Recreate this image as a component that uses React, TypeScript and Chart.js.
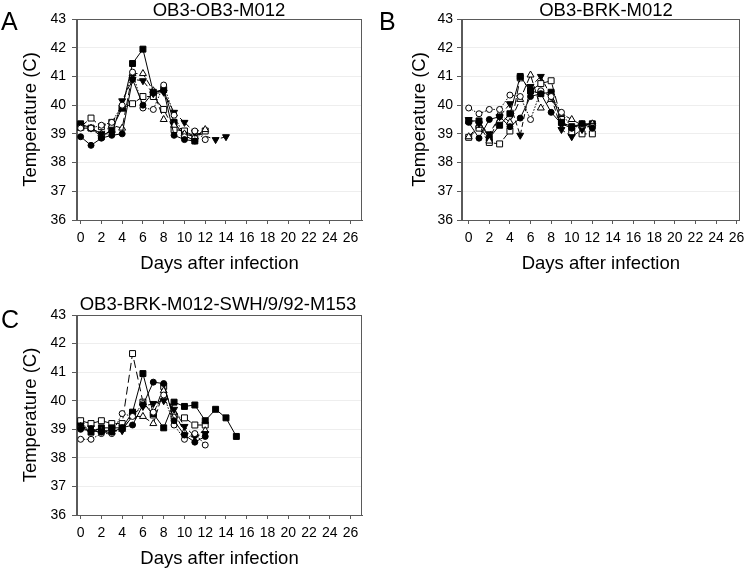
import React, { useEffect, useRef } from "react";
import { Chart, registerables } from "chart.js";

Chart.register(...registerables);

const FONT = '"Liberation Sans", Arial, Helvetica, sans-serif';

// ---------- shared axes ----------
const xTickValues = [0, 2, 4, 6, 8, 10, 12, 14, 16, 18, 20, 22, 24, 26];
const yTickValues = [36, 37, 38, 39, 40, 41, 42, 43];
const xAxisTitle = "Days after infection";
const yAxisTitle = "Temperature (C)";

// ---------- Panel A : OB3-OB3-M012 (values by day, starting day 0) ----------
const aFilledCircle = [38.9, 38.6, 38.85, 38.95, 39.0, 40.9, 40.0, 40.45, 40.5, 38.95, 38.8, 38.75];
const aOpenCircle = [39.2, 39.2, 39.3, 39.4, 40.0, 41.15, 39.9, 39.85, 40.7, 39.65, 38.9, 39.1, 38.8];
const aFilledTriDown = [39.3, 39.2, 39.0, 39.0, 40.15, 40.9, 40.85, 40.4, 40.45, 39.75, 39.4, 39.05, null, 38.8, 38.9];
const aOpenTriUp = [39.2, 39.2, 39.0, 39.3, 39.2, 41.1, 41.1, 40.5, 39.5, 39.3, 39.0, 38.9, 39.15];
const aFilledSquare = [39.35, 39.2, 38.9, 39.15, 39.9, 41.45, 41.95, 40.45, 40.55, 39.4, 38.95, 38.75];
const aOpenSquare = [39.25, 39.55, 39.25, 39.4, 39.9, 40.05, 40.3, 40.3, 39.85, 39.15, 39.1, 38.9, 39.1];

// ---------- Panel B : OB3-BRK-M012 ----------
const bFilledCircle = [39.4, 38.85, 39.5, 39.6, 39.25, 39.55, 40.3, 40.4, 39.75, 39.35, 39.2, 39.35, 39.2];
const bOpenCircle = [39.9, 39.7, 39.85, 39.85, 40.35, 40.3, 39.5, 40.5, 40.3, 39.75, 39.2, 39.3, 39.25];
const bFilledTriDown = [39.5, 39.35, 39.0, 39.6, 40.05, 38.95, 40.65, 41.0, 40.3, 39.15, 38.9, 39.15, 39.3];
const bOpenTriUp = [38.9, 39.3, 38.75, 39.7, 39.4, 40.2, 41.05, 39.9, 40.2, 39.7, 39.5, 39.3, 39.35];
const bFilledSquare = [39.45, 39.45, 38.85, 39.3, 39.7, 41.0, 40.5, 40.4, 40.45, 39.4, 39.25, 39.35, 39.35];
const bOpenSquare = [38.88, 39.2, 38.7, 38.65, 39.1, 40.95, 40.5, 40.75, 40.85, 39.5, 39.05, 39.0, 39.0];

// ---------- Panel C : OB3-BRK-M012-SWH/9/92-M153 ----------
const cFilledCircle = [39.0, 38.95, 38.9, 38.9, 39.05, 39.15, 39.85, 40.65, 40.6, 39.3, 38.8, 38.55, 38.75];
const cOpenCircle = [38.65, 38.65, 38.85, 38.85, 39.55, 39.45, 39.9, 39.6, 40.2, 39.15, 38.65, 38.85, 38.45];
const cFilledTriDown = [39.15, 39.05, 38.95, 38.95, 38.95, 39.5, 39.8, 39.9, 40.0, 39.7, 39.1, 38.75, 38.85];
const cOpenTriUp = [39.1, 39.0, 38.95, 38.9, 39.0, 39.45, 39.45, 39.2, 40.35, 39.6, 38.9, 38.8, 38.95];
const cFilledSquare = [39.1, 38.9, 39.05, 39.05, 39.05, 39.6, 40.95, 39.55, 39.05, 39.95, 39.8, 39.85, 39.3, 39.7, 39.4, 38.75];
const cOpenSquare = [39.3, 39.2, 39.3, 39.2, 39.2, 41.65, 39.95, 39.5, 40.5, 39.45, 39.4, 39.15, 39.15];

type MarkerKind = "fc" | "oc" | "ftd" | "otu" | "fs" | "os";

const markerStyles: Record<MarkerKind, any> = {
  fc: { pointStyle: "circle", pointRadius: 3, pointBackgroundColor: "#000", pointRotation: 0, borderDash: [] },
  oc: { pointStyle: "circle", pointRadius: 3, pointBackgroundColor: "#fff", pointRotation: 0, borderDash: [1.5, 1.5] },
  ftd: { pointStyle: "triangle", pointRadius: 4, pointBackgroundColor: "#000", pointRotation: 180, borderDash: [5, 3] },
  otu: { pointStyle: "triangle", pointRadius: 4, pointBackgroundColor: "#fff", pointRotation: 0, borderDash: [7, 3] },
  fs: { pointStyle: "rect", pointRadius: 4.2, pointBackgroundColor: "#000", pointRotation: 0, borderDash: [] },
  os: { pointStyle: "rect", pointRadius: 4.2, pointBackgroundColor: "#fff", pointRotation: 0, borderDash: [8, 4] },
};

type PanelCfg = {
  letter: string;
  title: string;
  series: [MarkerKind, (number | null)[]][];
  areaLeft: number;
  areaTop: number;
  areaRight: number;
  areaBottom: number;
  xMin: number;
  xMax: number;
  yTitlePad: number;
  xTitlePad: number;
  yTickPad: number;
  titleX: number;
  titleBase: number;
  letterBase: number;
  letterX: number;
};

const W = 375;
const H = 285;

const panels: { cfg: PanelCfg; left: number; top: number }[] = [
  {
    left: 0,
    top: 0,
    cfg: {
      letter: "A",
      title: "OB3-OB3-M012",
      series: [
        ["fc", aFilledCircle], ["oc", aOpenCircle], ["ftd", aFilledTriDown],
        ["otu", aOpenTriUp], ["fs", aFilledSquare], ["os", aOpenSquare],
      ],
      areaLeft: 77, areaTop: 19, areaRight: 362, areaBottom: 220,
      xMin: -0.35, xMax: 27.1,
      yTitlePad: 20, xTitlePad: 10, yTickPad: 6,
      titleX: 219, titleBase: 16, letterBase: 30, letterX: 1,
    },
  },
  {
    left: 375,
    top: 0,
    cfg: {
      letter: "B",
      title: "OB3-BRK-M012",
      series: [
        ["fc", bFilledCircle], ["oc", bOpenCircle], ["ftd", bFilledTriDown],
        ["otu", bOpenTriUp], ["fs", bFilledSquare], ["os", bOpenSquare],
      ],
      areaLeft: 87, areaTop: 19, areaRight: 366, areaBottom: 220,
      xMin: -0.65, xMax: 26.3,
      yTitlePad: 34, xTitlePad: 10, yTickPad: 4,
      titleX: 231, titleBase: 16, letterBase: 30, letterX: 4,
    },
  },
  {
    left: 0,
    top: 285,
    cfg: {
      letter: "C",
      title: "OB3-BRK-M012-SWH/9/92-M153",
      series: [
        ["fc", cFilledCircle], ["oc", cOpenCircle], ["ftd", cFilledTriDown],
        ["otu", cOpenTriUp], ["fs", cFilledSquare], ["os", cOpenSquare],
      ],
      areaLeft: 77, areaTop: 30, areaRight: 362, areaBottom: 230,
      xMin: -0.35, xMax: 27.1,
      yTitlePad: 20, xTitlePad: 0, yTickPad: 6,
      titleX: 218, titleBase: 25, letterBase: 43, letterX: 1,
    },
  },
];

const decorPlugin = {
  id: "decor",
  afterDraw(chart: any, _args: any, opts: any) {
    const { ctx, chartArea } = chart;
    ctx.save();
    // plot frame
    ctx.strokeStyle = "#5a5a5a";
    ctx.lineWidth = 1;
    ctx.strokeRect(
      Math.round(chartArea.left) - 0.5,
      Math.round(chartArea.top) + 0.5,
      Math.round(chartArea.right - chartArea.left),
      Math.round(chartArea.bottom - chartArea.top)
    );
    // panel title
    ctx.fillStyle = "#000";
    ctx.font = `18.5px ${FONT}`;
    ctx.textAlign = "center";
    ctx.textBaseline = "alphabetic";
    ctx.fillText(opts.title, opts.titleX, opts.titleBase);
    // panel letter
    ctx.font = `25px ${FONT}`;
    ctx.textAlign = "left";
    ctx.fillText(opts.letter, opts.letterX, opts.letterBase);
    ctx.restore();
  },
};

function Panel({ cfg, left, top }: { cfg: PanelCfg; left: number; top: number }) {
  const ref = useRef<HTMLCanvasElement>(null);

  useEffect(() => {
    const canvas = ref.current;
    if (!canvas) return;

    const datasets = cfg.series.map(([kind, values]) => {
      const st = markerStyles[kind];
      const pts = values
        .map((v, i) => (v === null ? null : { x: i, y: v }))
        .filter((p) => p !== null);
      return {
        data: pts,
        showLine: true,
        borderColor: "#000",
        borderWidth: 1,
        borderDash: st.borderDash,
        pointStyle: st.pointStyle,
        pointRadius: st.pointRadius,
        pointHoverRadius: st.pointRadius,
        pointRotation: st.pointRotation,
        pointBackgroundColor: st.pointBackgroundColor,
        pointBorderColor: "#000",
        pointBorderWidth: 1,
        backgroundColor: st.pointBackgroundColor,
        tension: 0,
        fill: false,
      };
    });

    const chart = new Chart(canvas, {
      type: "scatter",
      data: { datasets: datasets as any },
      plugins: [decorPlugin as any],
      options: {
        responsive: false,
        animation: false,
        devicePixelRatio: 1,
        layout: {
          padding: { left: 0, top: cfg.areaTop, right: W - cfg.areaRight, bottom: 0 },
        },
        plugins: {
          legend: { display: false },
          tooltip: { enabled: false },
          title: { display: false },
          decor: {
            title: cfg.title,
            titleX: cfg.titleX,
            titleBase: cfg.titleBase,
            letter: cfg.letter,
            letterX: cfg.letterX,
            letterBase: cfg.letterBase,
          },
        } as any,
        scales: {
          x: {
            type: "linear",
            min: cfg.xMin,
            max: cfg.xMax,
            afterFit: (s: any) => {
              s.height = H - cfg.areaBottom;
            },
            afterBuildTicks: (s: any) => {
              s.ticks = xTickValues.map((v) => ({ value: v }));
            },
            grid: {
              drawOnChartArea: false,
              drawTicks: true,
              tickLength: 4,
              tickColor: "#5a5a5a",
            },
            border: { display: true, color: "#5a5a5a", width: 1 },
            ticks: {
              color: "#000",
              padding: 5.5,
              maxRotation: 0,
              autoSkip: false,
              font: { family: FONT, size: 14 },
            },
            title: {
              display: true,
              text: xAxisTitle,
              color: "#000",
              font: { family: FONT, size: 18.5 },
              padding: { top: 0, bottom: cfg.xTitlePad },
            },
          },
          y: {
            type: "linear",
            min: 36,
            max: 43,
            afterFit: (s: any) => {
              s.width = cfg.areaLeft;
            },
            afterBuildTicks: (s: any) => {
              s.ticks = yTickValues.map((v) => ({ value: v }));
            },
            grid: {
              color: "#eeeeee",
              lineWidth: 1,
              drawTicks: true,
              tickLength: 5,
              tickColor: "#5a5a5a",
            },
            border: { display: true, color: "#5a5a5a", width: 1 },
            ticks: {
              color: "#000",
              padding: cfg.yTickPad,
              font: { family: FONT, size: 14 },
            },
            title: {
              display: true,
              text: yAxisTitle,
              color: "#000",
              font: { family: FONT, size: 18.5 },
              padding: { top: cfg.yTitlePad, bottom: 0 },
            },
          },
        },
      },
    });

    return () => chart.destroy();
  }, [cfg]);

  return (
    <canvas
      ref={ref}
      width={W}
      height={H}
      style={{ position: "absolute", left, top, width: W, height: H, display: "block" }}
    />
  );
}

export default function App() {
  return (
    <div
      style={{
        position: "absolute",
        left: 0,
        top: 0,
        width: 750,
        height: 570,
        background: "#fff",
        overflow: "hidden",
      }}
    >
      {panels.map((p) => (
        <Panel key={p.cfg.letter} cfg={p.cfg} left={p.left} top={p.top} />
      ))}
    </div>
  );
}
